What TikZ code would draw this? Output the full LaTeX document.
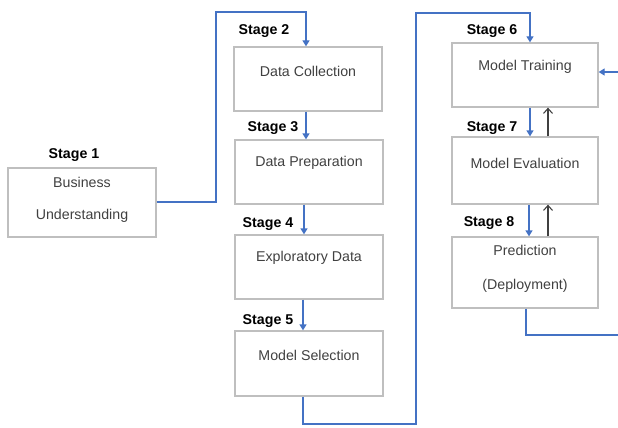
\documentclass[tikz,border=0pt]{standalone}
\usepackage{fontspec}
\setmainfont{Liberation Sans}
\usetikzlibrary{arrows.meta}
\definecolor{flowblue}{HTML}{4472C4}
\definecolor{boxgray}{HTML}{BFBFBF}
\definecolor{txtgray}{HTML}{404040}
\begin{document}
\begin{tikzpicture}[x=1pt,y=-1pt,
  box/.style={draw=boxgray,line width=1.3pt,minimum width=148pt,minimum height=64pt,inner sep=0pt},
  txt/.style={text=txtgray,font=\fontsize{14.2}{17}\selectfont,inner sep=0pt},
  stagelbl/.style={text=black,font=\fontsize{14.2}{17}\selectfont\bfseries,inner sep=0pt},
  flow/.style={draw=flowblue,line width=1.3pt,-{Triangle[length=6pt,width=7pt]}},
  flowline/.style={draw=flowblue,line width=1.3pt},
  back/.style={draw=black!75,line width=1.1pt,-{Straight Barb[length=5pt,width=9pt]}}]
\useasboundingbox (0,0) rectangle (618,428);
% boxes
\node[box,minimum width=148pt,minimum height=69pt] (s1) at (82,202.5) {};
\node[box] (s2) at (308,79) {};
\node[box] (s3) at (309,172) {};
\node[box] (s4) at (309,267) {};
\node[box,minimum height=65pt] (s5) at (309,363.5) {};
\node[box,minimum width=146pt] (s6) at (525,75) {};
\node[box,minimum width=146pt,minimum height=67pt] (s7) at (525,170.5) {};
\node[box,minimum width=146pt,minimum height=71pt] (s8) at (525,272.5) {};
% texts
\node[txt] (t1a) at (82,182) {Business};
\node[txt] (t1b) at (82,216) {Understanding};
\node[txt] (t2) at (308,71) {Data Collection};
\node[txt] (t3) at (309,163) {Data Preparation};
\node[txt] (t4) at (309,258) {Exploratory Data};
\node[txt] (t5) at (309,355) {Model Selection};
\node[txt] (t6) at (525,67) {Model Training};
\node[txt] (t7) at (525,163) {Model Evaluation};
\node[txt] (t8a) at (525,250) {Prediction};
\node[txt] (t8b) at (525,286) {(Deployment)};
% stage labels
\node[stagelbl] (l1) at (74,155) {Stage 1};
\node[stagelbl] (l2) at (264,31) {Stage 2};
\node[stagelbl] (l3) at (273,128) {Stage 3};
\node[stagelbl] (l4) at (268,224) {Stage 4};
\node[stagelbl] (l5) at (268,321) {Stage 5};
\node[stagelbl] (l6) at (492,31) {Stage 6};
\node[stagelbl] (l7) at (492,128) {Stage 7};
\node[stagelbl] (l8) at (489,223) {Stage 8};
% coordinates
\coordinate (c1) at (216,12);
\coordinate (c2) at (416,424);
\coordinate (c3) at (416,13);
\coordinate (rin) at (618,72);
\coordinate (rout) at (618,335);
% connectors
\draw[flow] (s1.east |- 0,202) -| (c1) -| ([xshift=-2pt]s2.north);
\draw[flow] ([xshift=-2pt]s2.south) -- ([xshift=-2pt]s2.south |- s3.north);
\draw[flow] ([xshift=-5pt]s3.south) -- ([xshift=-5pt]s3.south |- s4.north);
\draw[flow] ([xshift=-6pt]s4.south) -- ([xshift=-6pt]s4.south |- s5.north);
\draw[flow] ([xshift=-6pt]s5.south) |- (c2) -- (c3) -| ([xshift=5pt]s6.north);
\draw[flow] ([xshift=5pt]s6.south) -- ([xshift=5pt]s6.south |- s7.north);
\draw[flow] ([xshift=4pt]s7.south) -- ([xshift=4pt]s7.south |- s8.north);
\draw[back] ([xshift=23pt]s7.north) -- ([xshift=23pt]s6.south);
\draw[back] ([xshift=23pt]s8.north) -- ([xshift=23pt]s7.south);
\draw[flow] (rin) -- (rin -| s6.east);
\draw[flowline] ([xshift=1pt]s8.south) |- (rout);
\end{tikzpicture}
\end{document}
